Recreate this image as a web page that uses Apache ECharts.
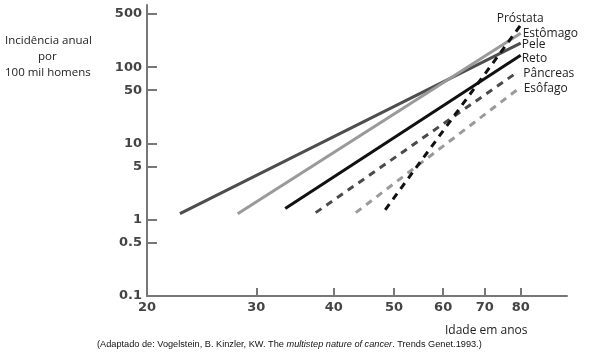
<!DOCTYPE html>
<html>
<head>
<meta charset="utf-8">
<script src="https://cdn.jsdelivr.net/npm/echarts@6/dist/echarts.min.js"></script>
<style>
html,body{margin:0;padding:0;background:#fff;}
#c{width:589px;height:357px;}
</style>
</head>
<body>
<div id="c"></div>
<script>
// Data
const seriesNames = ['Pele', 'Estômago', 'Reto', 'Pâncreas', 'Esôfago', 'Próstata'];
const startAges = [22.6, 28.0, 33.4, 37.4, 43.4, 48.4];
const endAges   = [80, 80, 80, 79, 80, 80];
const startRates = [1.2, 1.2, 1.4, 1.24, 1.24, 1.35];
const endRates   = [207, 280, 144, 86, 55, 357];
const xTicks = [20, 30, 40, 50, 60, 70, 80];
const yTicks = [0.1, 0.5, 1, 5, 10, 50, 100, 500];

const colors = ['#4d4d4d', '#9a9a9a', '#111111', '#4a4a4a', '#9a9a9a', '#111111'];
const dashed = [false, false, false, true, true, true];
const labelOffsets = [[1, 1], [2, 0], [1, 3], [6, 1], [3, 2], [-24, -7]];

const series = seriesNames.map((name, i) => ({
  name,
  type: 'line',
  data: [[startAges[i], startRates[i]], [endAges[i], endRates[i]]],
  symbol: 'none',
  silent: true,
  lineStyle: { color: colors[i], width: 3, type: dashed[i] ? [7, 6] : 'solid' },
  endLabel: {
    show: true,
    formatter: name,
    color: '#222',
    fontFamily: 'Open Sans',
    fontSize: 12,
    distance: 0,
    offset: labelOffsets[i]
  }
}));

const chart = echarts.init(document.getElementById('c'), null, { renderer: 'canvas' });
chart.setOption({
  animation: false,
  backgroundColor: '#fff',
  grid: { left: 147, right: 22, top: 5, bottom: 61 },
  xAxis: {
    type: 'log', logBase: 10, min: 20, max: 95,
    axisLine: { lineStyle: { color: '#777', width: 2 } },
    axisTick: { inside: true, length: 8, lineStyle: { color: '#777', width: 2 }, customValues: xTicks },
    axisLabel: { customValues: xTicks, color: '#444', fontFamily: 'DejaVu Sans', fontWeight: 'bold', fontSize: 13, margin: 5, showMinLabel: true },
    splitLine: { show: false },
    minorTick: { show: false }
  },
  yAxis: {
    type: 'log', logBase: 10, min: 0.1, max: 655,
    axisLine: { show: true, lineStyle: { color: '#777', width: 2 } },
    axisTick: { show: true, inside: true, length: 10, lineStyle: { color: '#777', width: 2 }, customValues: yTicks },
    axisLabel: { customValues: yTicks, color: '#444', fontFamily: 'DejaVu Sans', fontWeight: 'bold', fontSize: 13, margin: 5,
      formatter: v => String(v) },
    splitLine: { show: false }
  },
  series,
  graphic: [
    { type: 'text', left: 5, top: 35, style: { text: 'Incidência anual', font: '11.5px "Open Sans"', fill: '#222' } },
    { type: 'text', left: 38, top: 51, style: { text: 'por', font: '11.5px "Open Sans"', fill: '#222' } },
    { type: 'text', left: 5, top: 67, style: { text: '100 mil homens', font: '11.5px "Open Sans"', fill: '#222' } },
    { type: 'text', left: 445, top: 325, style: { text: 'Idade em anos', font: '12px "Open Sans"', fill: '#222' } },
    { type: 'text', left: 97, top: 340, style: {
        rich: {
          n: { font: '9.2px "Liberation Sans"', fill: '#111' },
          i: { font: 'italic 9.2px "Liberation Sans"', fill: '#111' }
        },
        text: '{n|(Adaptado de: Vogelstein, B. Kinzler, KW. The }{i|multistep nature of cancer}{n|. Trends Genet.1993.)}'
    } }
  ]
});
</script>
</body>
</html>
